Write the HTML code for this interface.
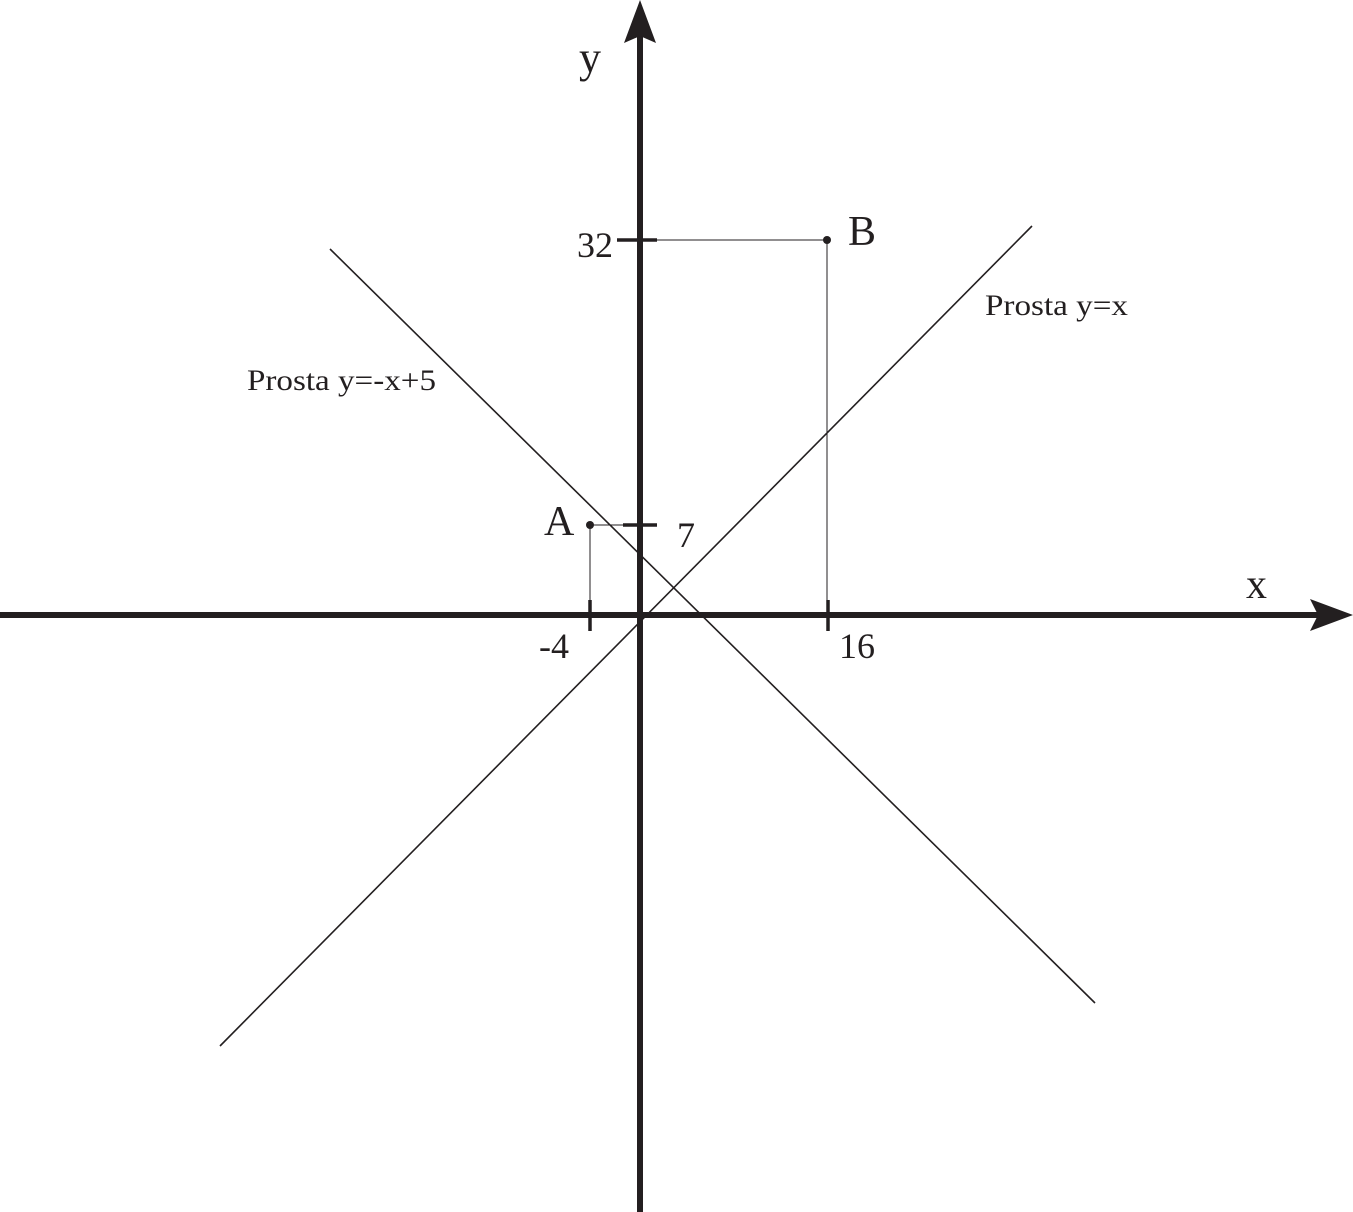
<!DOCTYPE html>
<html><head><meta charset="utf-8"><style>
html,body{margin:0;padding:0;background:#fff;}
svg{display:block;}
text{font-family:"Liberation Serif",serif;fill:#231f20;}
</style></head><body>
<svg width="1353" height="1212" viewBox="0 0 1353 1212" xmlns="http://www.w3.org/2000/svg">
<g stroke="#231f20" fill="none">
<line x1="0" y1="615" x2="1320" y2="615" stroke-width="6"/>
<line x1="640" y1="1212" x2="640" y2="30" stroke-width="6"/>
<line x1="220" y1="1046" x2="1032" y2="226" stroke-width="1.6"/>
<line x1="330" y1="249" x2="1095" y2="1003" stroke-width="1.6"/>
<polyline points="590,525 590,615" stroke-width="1"/>
<polyline points="590,525 640,525" stroke-width="1"/>
<polyline points="640,240 827,240 827,615" stroke-width="1"/>
<line x1="590" y1="600" x2="590" y2="631" stroke-width="3.5"/>
<line x1="828" y1="600" x2="828" y2="631" stroke-width="3.5"/>
<line x1="623" y1="525" x2="657" y2="525" stroke-width="3.5"/>
<line x1="617" y1="240" x2="657" y2="240" stroke-width="3.5"/>
</g>
<g fill="#231f20">
<polygon points="640,0 656,43 640,36 624,43"/>
<polygon points="1353,615 1310,631 1318,615 1310,599"/>
<circle cx="590" cy="525" r="4"/>
<circle cx="827" cy="240" r="4"/>
</g>
<text x="579" y="72" font-size="44">y</text>
<text x="1246" y="598" font-size="42">x</text>
<text x="848" y="245" font-size="42">B</text>
<text x="544" y="535" font-size="42">A</text>
<text x="577" y="257" font-size="36">32</text>
<text x="677" y="547" font-size="36">7</text>
<text x="539" y="658" font-size="36">-4</text>
<text x="839" y="658" font-size="36">16</text>
<text x="985" y="315" font-size="30" textLength="143" lengthAdjust="spacingAndGlyphs">Prosta y=x</text>
<text x="247" y="390" font-size="30" textLength="189" lengthAdjust="spacingAndGlyphs">Prosta y=-x+5</text>
</svg>
</body></html>
